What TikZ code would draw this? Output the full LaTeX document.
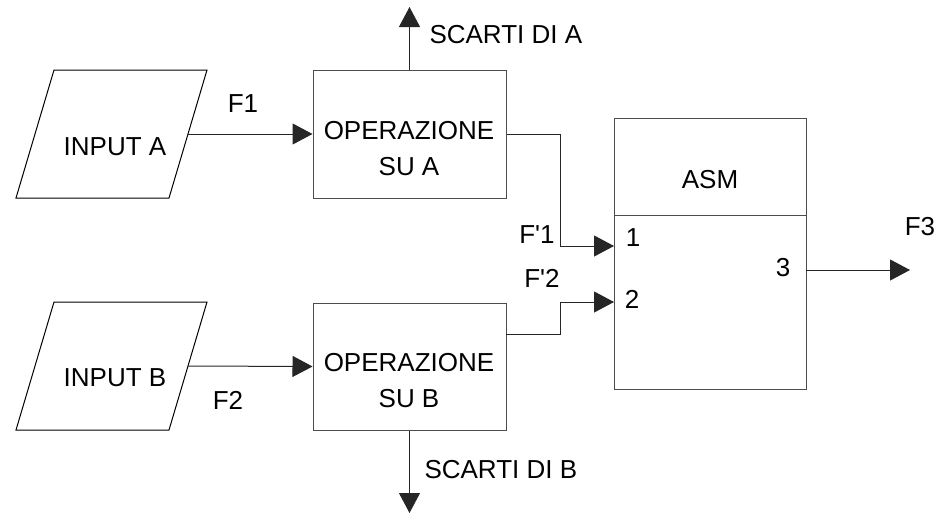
\documentclass[tikz,border=0pt]{standalone}
\usepackage{fontspec}
\setmainfont{Liberation Sans}
\newfontfamily\arialraw{Liberation Sans}
\usetikzlibrary{arrows.meta}
\begin{document}
\begin{tikzpicture}[x=1pt,y=-1pt,line width=1pt,
  txt/.style={inner sep=0pt,font=\arialraw\fontsize{26}{36}\selectfont,align=center},
  blk/.style={draw=black!70,rectangle,inner sep=0pt},
  flow/.style={draw=black!85,-{Triangle[length=20pt,width=21pt]}}]
\useasboundingbox (0,0) rectangle (935,515);
% input parallelograms
\draw[black] (54,70) -- (207,70) -- (169,198) -- (16,198) -- cycle;
\coordinate (inA) at (188,134);
\draw[black] (54,302) -- (207,302) -- (169,430) -- (16,430) -- cycle;
\coordinate (inB) at (188,366);
% operation boxes
\node[blk,minimum width=193pt,minimum height=128pt] (opA) at (409.5,134) {};
\node[blk,minimum width=193pt,minimum height=127pt] (opB) at (409.5,366.5) {};
% ASM box
\node[blk,minimum width=192pt,minimum height=271pt] (asm) at (710,253.5) {};
\coordinate (div) at (0,215);
\draw[black!70] (asm.west |- div) -- (asm.east |- div);
% ports
\coordinate (p1) at (614,246);
\coordinate (p2) at (614,302);
\coordinate (pB) at (506,334);
\coordinate (p3) at (806,270);
\coordinate (out) at (910,270);
\coordinate (sA) at (409.5,7);
\coordinate (sB) at (409.5,513);
% connectors
\draw[flow] (inA) -- (opA.west);
\draw[flow] (inB) -- (opB.west);
\draw[flow] (opA.north) -- (sA);
\draw[flow] (opB.south) -- (sB);
\draw[flow] (opA.east) -- (560,134) |- (p1);
\draw[flow] (pB) -- (560,334) |- (p2);
\draw[flow] (p3) -- (out);
% texts
\node[txt] (tInA) at (115,147) {INPUT A};
\node[txt] (tInB) at (115,378) {INPUT B};
\node[txt] (tOpA) at (409,149) {OPERAZIONE\\SU A};
\node[txt] (tOpB) at (409,380.5) {OPERAZIONE\\SU B};
\node[txt] (tAsm) at (710,180) {ASM};
\node[txt] (tF1) at (243,104) {F1};
\node[txt] (tF2) at (228,400) {F2};
\node[txt] (tF3) at (920,227) {F3};
\node[txt] (tFp1) at (537,235) {F'1};
\node[txt] (tFp2) at (542,278) {F'2};
\node[txt] (t1) at (633,238) {1};
\node[txt] (t2) at (632,299) {2};
\node[txt] (t3) at (783,268) {3};
\node[txt,anchor=west] (tSA) at (429,35) {SCARTI DI A};
\node[txt,anchor=west] (tSB) at (424,470) {SCARTI DI B};
\end{tikzpicture}
\end{document}
